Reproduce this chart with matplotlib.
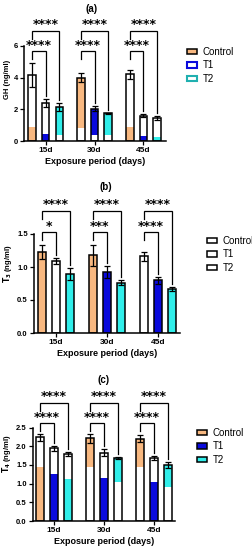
import numpy as np
import matplotlib
matplotlib.use('Agg')
import matplotlib.pyplot as plt
from matplotlib.patches import Patch

plt.rcParams['font.family'] = ['Liberation Sans', 'DejaVu Sans']

# data
periods = ['15d', '30d', '45d']
groups = ['Control', 'T1', 'T2']

gh_mean = {'Control': [4.15, 4.0, 4.2], 'T1': [2.4, 2.05, 1.6], 'T2': [2.15, 1.75, 1.45]}
gh_err = {'Control': [0.75, 0.3, 0.3], 'T1': [0.25, 0.15, 0.1], 'T2': [0.25, 0.05, 0.1]}

t3_mean = {'Control': [1.23, 1.18, 1.16], 'T1': [1.09, 0.93, 0.80], 'T2': [0.89, 0.76, 0.67]}
t3_err = {'Control': [0.11, 0.16, 0.07], 'T1': [0.04, 0.09, 0.05], 'T2': [0.09, 0.04, 0.03]}

t4_mean = {'Control': [2.24, 2.21, 2.20], 'T1': [1.95, 1.83, 1.69], 'T2': [1.79, 1.68, 1.50]}
t4_err = {'Control': [0.09, 0.12, 0.09], 'T1': [0.07, 0.10, 0.06], 'T2': [0.06, 0.03, 0.07]}

# coloured part of each bar (low, high); None = up to bar top, () = no colour
gh_fill = {'Control': [(0, 0.9), (0.8, None), (0, 0.9)],
           'T1': [(0, 0.45), (0.35, None), (0, 0.3)],
           'T2': [(0.4, None), (0.35, None), (0, 0.25)]}
t3_fill = {'Control': [(0, None), (0, None), ()],
           'T1': [(), (0, None), (0, None)],
           'T2': [(0, None), (0, None), (0, None)]}
t4_fill = {'Control': [(0, 1.45), (1.45, None), (1.45, None)],
           'T1': [(0, 1.25), (0, 1.15), (0, 1.05)],
           'T2': [(0, 1.12), (1.05, None), (0.92, None)]}

gh_stars_inner = ['****', '****', '****']
gh_stars_outer = ['****', '****', '****']
t3_stars_inner = ['*', '***', '****']
t3_stars_outer = ['****', '****', '****']
t4_stars_inner = ['****', '****', '****']
t4_stars_outer = ['****', '****', '****']

colors = {'Control': '#F8B880', 'T1': '#0A0ADC', 'T2': '#30EEEA'}

W, H = 252, 550
fig = plt.figure(figsize=(W / 100, H / 100), dpi=100)


def make_axes(left, right, top, bottom):
    return fig.add_axes([left / W, 1 - bottom / H, (right - left) / W, (bottom - top) / H])


def panel(ax, means, errs, fills, inner, outer, ylim, ymax_tick, yticks, yfmt,
          ylabel, br_in, br_out, xlim):
    gap_g = 3.6
    pxu = ax.get_position().height * H / ylim  # pixels per unit
    for g in range(3):
        for i, name in enumerate(groups):
            x = g * gap_g + i
            m = means[name][g]
            ax.bar(x, m, 0.55, color='white', zorder=1)
            f = fills[name][g]
            if f:
                lo = f[0]
                hi = m if f[1] is None else f[1]
                ax.bar(x, hi - lo, 0.55, bottom=lo, color=colors[name], zorder=2)
            ax.bar(x, m, 0.55, facecolor='none', edgecolor='black', linewidth=1.1, zorder=3)
            ax.errorbar(x, m, yerr=errs[name][g], color='black', capsize=2.2,
                        elinewidth=0.9, capthick=0.9, zorder=4)
        # brackets
        x0 = g * gap_g
        for j, (yb, txt) in enumerate([(br_in, inner[g]), (br_out, outer[g])]):
            x1 = x0 + j + 1
            name = groups[j + 1]
            yend = means[name][g] + errs[name][g] + 3 / pxu
            ax.plot([x0, x0, x1, x1], [yb - 8 / pxu, yb, yb, yend], color='black',
                    lw=0.9, solid_joinstyle='miter', zorder=5, clip_on=False)
            ax.text((x0 + x1) / 2, yb + 2.5 / pxu, txt, ha='center', va='baseline',
                    fontsize=9, fontweight='bold', family='DejaVu Sans')
    ax.set_xlim(*xlim)
    ax.set_ylim(0, ylim)
    ax.set_xticks([g * gap_g + 1 for g in range(3)])
    ax.set_xticklabels(periods, fontsize=6, fontweight='bold')
    ax.set_yticks(yticks)
    ax.set_yticklabels([yfmt.format(v) for v in yticks], fontsize=5.5, fontweight='bold')
    ax.tick_params(length=3, width=0.9, pad=1.5)
    ax.spines['top'].set_visible(False)
    ax.spines['right'].set_visible(False)
    ax.spines['left'].set_bounds(0, ymax_tick)
    for s in ['left', 'bottom']:
        ax.spines[s].set_linewidth(1.1)
    ax.set_ylabel(ylabel, fontsize=5.5, fontweight='bold', labelpad=2)
    ax.set_xlabel('Exposure period (days)', fontsize=6.5, fontweight='bold', labelpad=2)


def legend(handles, x, y):
    fig.legend(handles=handles, labels=groups, loc='upper left',
               bbox_to_anchor=(x / W, 1 - y / H), frameon=False, fontsize=7,
               handlelength=1.0, handleheight=0.5, handletextpad=0.6,
               labelspacing=0.35, borderpad=0, borderaxespad=0)


# (a)
ax1 = make_axes(24, 166, 17.5, 141)
panel(ax1, gh_mean, gh_err, gh_fill, gh_stars_inner, gh_stars_outer, 7.8, 6,
      [0, 2, 4, 6], '{:.0f}', 'GH (ng/ml)', 5.68, 6.95, (-0.6, 9.87))
fig.text(92 / W, 1 - 9 / H, '(a)', ha='center', va='center', fontsize=7, fontweight='bold')
legend([Patch(facecolor=colors['Control'], edgecolor='black', lw=1.1),
        Patch(facecolor='white', edgecolor=colors['T1'], lw=1.5),
        Patch(facecolor='white', edgecolor='#20b0b0', lw=1.5)], 187, 47)

# (b)
ax2 = make_axes(34, 180, 194.4, 333)
panel(ax2, t3_mean, t3_err, t3_fill, t3_stars_inner, t3_stars_outer, 2.1, 1.5,
      [0.0, 0.5, 1.0, 1.5], '{:.1f}', r'$\mathbf{T_3}$ (ng/ml)', 1.53, 1.85, (-0.54, 9.76))
fig.text(106 / W, 1 - 187 / H, '(b)', ha='center', va='center', fontsize=7, fontweight='bold')
legend([Patch(facecolor='white', edgecolor='black', lw=1.1) for _ in groups], 207, 236)

# (c)
ax3 = make_axes(33, 175, 386.5, 521)
panel(ax3, t4_mean, t4_err, t4_fill, t4_stars_inner, t4_stars_outer, 3.6, 2.5,
      [0.0, 0.5, 1.0, 1.5, 2.0, 2.5], '{:.1f}', r'$\mathbf{T_4}$ (ng/ml)', 2.61, 3.17, (-0.5, 9.7))
fig.text(104 / W, 1 - 380 / H, '(c)', ha='center', va='center', fontsize=7, fontweight='bold')
legend([Patch(facecolor=colors['Control'], edgecolor='black', lw=1.1),
        Patch(facecolor=colors['T1'], edgecolor='black', lw=1.1),
        Patch(facecolor=colors['T2'], edgecolor='black', lw=1.1)], 197, 428)

fig.savefig('out.png', dpi=100)
